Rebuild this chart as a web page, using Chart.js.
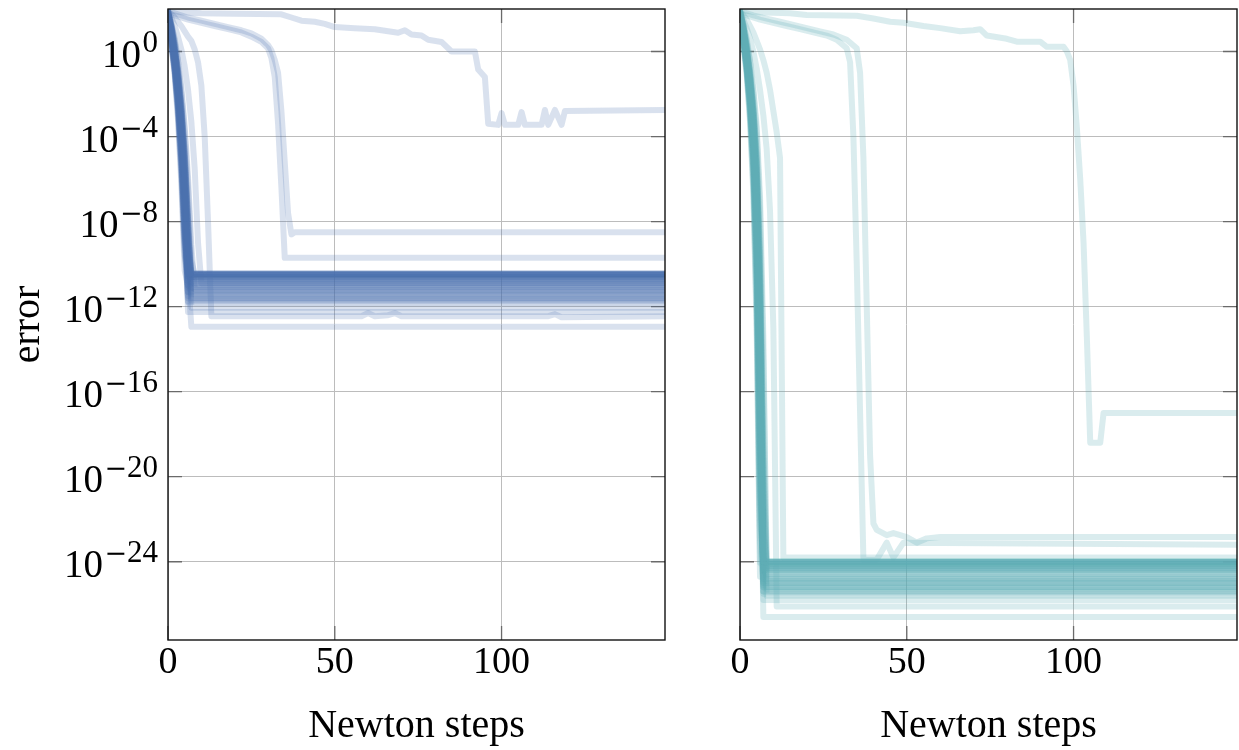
<!DOCTYPE html>
<html>
<head>
<meta charset="utf-8">
<script src="https://cdn.jsdelivr.net/npm/chart.js@4/dist/chart.umd.min.js"></script>
<style>
  html, body { margin: 0; padding: 0; background: #fff; }
  #wrap { position: relative; width: 1239px; height: 750px; }
  canvas { position: absolute; top: 0; }
  #errLeft { left: 0; }
  #errRight { left: 690px; }
</style>
</head>
<body>
<div id="wrap">
  <canvas id="errLeft" width="680" height="750"></canvas>
  <canvas id="errRight" width="549" height="750"></canvas>
</div>
<script>
// Newton steps shown on x, error (log10 exponent) on y
const stepRange = [0, 149];
const errorExpRange = [-27.68, 2.0];
const xTicks = [0, 50, 100];
const yTickExps = [0, -4, -8, -12, -16, -20, -24];

// Fast runs: error exponent at steps 0, 1, 2, ... then flat at the last value
const leftFast = [
  [1.8, 1.0, 0.0, -1.3, -3.0, -5.6, -9.0, -10.45],
  [1.6, 0.7, -0.5, -2.1, -4.4, -7.8, -10.45],
  [1.9, 1.2, 0.3, -0.9, -2.5, -4.7, -7.8, -10.45],
  [1.5, 0.5, -0.8, -2.6, -5.2, -8.9, -10.45],
  [1.7, 0.9, -0.2, -1.6, -3.5, -6.2, -9.6, -10.5],
  [1.8, 1.1, 0.1, -1.2, -2.9, -5.3, -8.6, -10.5],
  [1.4, 0.4, -1.0, -3.0, -5.8, -9.6, -10.5],
  [1.9, 1.3, 0.5, -0.5, -1.9, -3.8, -6.4, -9.8, -10.5],
  [1.6, 0.6, -0.6, -2.3, -4.7, -8.2, -10.55],
  [1.7, 0.8, -0.3, -1.8, -3.8, -6.8, -10.0, -10.6],
  [1.8, 1.0, -0.1, -1.5, -3.4, -6.1, -9.4, -10.6],
  [1.5, 0.5, -0.8, -2.6, -5.1, -8.7, -10.6],
  [1.9, 1.1, 0.0, -1.4, -3.2, -5.9, -9.3, -10.7],
  [1.6, 0.7, -0.5, -2.2, -4.5, -7.9, -10.75],
  [1.7, 0.9, -0.2, -1.7, -3.7, -6.6, -10.0, -10.8],
  [1.8, 1.2, 0.3, -0.9, -2.5, -4.8, -7.9, -10.9],
  [1.4, 0.3, -1.1, -3.2, -6.2, -10.3, -11.0],
  [1.7, 0.8, -0.4, -2.0, -4.2, -7.4, -11.1],
  [1.9, 1.3, 0.6, -0.4, -1.7, -3.5, -5.9, -9.1, -11.2],
  [1.6, 0.6, -0.7, -2.4, -4.8, -8.4, -11.3],
  [1.8, 1.0, -0.1, -1.5, -3.4, -6.2, -9.8, -11.4],
  [1.5, 0.4, -0.9, -2.8, -5.5, -9.3, -11.5],
  [1.7, 1.0, 0.0, -1.3, -3.1, -5.6, -9.0, -11.6],
  [1.8, 0.9, -0.2, -1.7, -3.8, -6.9, -10.5, -11.7],
  [1.6, 0.7, -0.5, -2.1, -4.4, -7.7, -11.8],
  [1.9, 1.2, 0.3, -0.9, -2.5, -4.7, -7.8, -12.05],
  [1.7, 0.8, -0.3, -1.9, -4.0, -7.1, -12.25],
  [1.8, 1.0, 0.0, -1.4, -3.2, -5.8, -9.3, -10.45],
  [1.5, 0.5, -0.8, -2.5, -5.0, -8.6, -10.45],
  [1.7, 0.9, -0.2, -1.6, -3.6, -6.4, -9.9, -10.5],
  [1.6, 0.7, -0.4, -2.0, -4.2, -7.4, -10.5],
  [1.8, 1.1, 0.1, -1.1, -2.8, -5.2, -8.5, -10.6],
  [1.6, 0.7, -0.4, -1.9, -4.0, -7.0, -10.6, -12.95],
  [1.9, 1.6, 1.2, 0.7, 0.1, -0.7, -1.8, -3.3, -5.5, -9.0, -10.9],
  [1.7, 0.9, -0.1, -1.5, -3.4, -6.0, -9.5, -10.7],
  [1.6, 0.6, -0.6, -2.2, -4.5, -7.9, -10.8],
  [1.8, 1.1, 0.2, -1.0, -2.7, -5.0, -8.2, -10.9],
  [1.5, 0.5, -0.7, -2.4, -4.8, -8.3, -11.0],
  [1.7, 0.9, -0.2, -1.7, -3.7, -6.6, -10.2, -11.1],
  [1.9, 1.2, 0.2, -1.1, -2.8, -5.2, -8.5, -11.2],
  [1.6, 0.6, -0.6, -2.3, -4.6, -8.0, -11.3],
  [1.8, 1.0, 0.0, -1.4, -3.3, -6.0, -9.6, -11.45],
  [1.7, 0.8, -0.3, -1.8, -3.9, -7.0, -11.6],
  [1.5, 0.4, -0.9, -2.7, -5.3, -9.0, -11.75]
];

// Slow runs: [step, error exponent] pairs
const leftSlow = [
  [[0, 1.9], [3, 1.75], [6, 1.6], [10, 1.45], [14, 1.3], [18, 1.15], [22, 1.0], [25, 0.85], [28, 0.6],
   [30, 0.3], [31, 0.05], [32, -0.4], [33, -1.0], [34, -2.8], [35, -5.2], [36, -7.6], [37, -8.6], [38, -8.5],
   [149, -8.5]],
  [[0, 1.8], [3, 1.65], [6, 1.5], [10, 1.35], [14, 1.2], [18, 1.05], [22, 0.9], [25, 0.7], [28, 0.45],
   [30, 0.15], [31, -0.3], [32, -1.2], [33, -3.4], [34, -6.4], [35, -9.7], [149, -9.7]],
  [[0, 1.95], [4, 1.85], [10, 1.8], [20, 1.78], [34, 1.75], [37, 1.6], [40, 1.45], [44, 1.4], [47, 1.3],
   [50, 1.15], [56, 1.1], [62, 1.05], [66, 0.95], [69, 0.88], [71, 1.0], [73, 0.8], [76, 0.75], [78, 0.55],
   [82, 0.45], [85, 0.0], [92, 0.0], [93, -0.85], [95, -1.2], [96, -3.4], [99, -3.45], [100, -2.9],
   [101, -3.45], [105, -3.45], [106, -2.85], [107, -3.45], [112, -3.45], [113, -2.75], [114, -3.45],
   [116, -2.75], [118, -3.45], [119, -2.8], [149, -2.75]],
  [[0, 1.9], [1, 1.75], [2, 1.6], [3, 1.4], [4, 1.2], [5, 0.95], [6, 0.7], [7, 0.5], [8, 0.1], [9, -0.5],
   [10, -1.6], [11, -4.0], [12, -8.0], [13, -12.45], [58, -12.45], [60, -12.3], [62, -12.45], [66, -12.4],
   [68, -12.3], [70, -12.45], [114, -12.45], [116, -12.35], [118, -12.5], [149, -12.45]]
];

const rightFast = [
  [1.8, 1.0, -0.1, -1.5, -3.4, -6.6, -12.8, -24.0],
  [1.6, 0.7, -0.5, -2.2, -4.6, -9.0, -17.8, -24.0],
  [1.9, 1.2, 0.3, -0.9, -2.5, -4.8, -9.4, -18.5, -24.0],
  [1.5, 0.5, -0.8, -2.7, -5.6, -11.0, -22.0, -24.0],
  [1.7, 0.9, -0.2, -1.7, -3.8, -7.4, -14.6, -24.0],
  [1.8, 1.1, 0.1, -1.2, -3.0, -5.8, -11.4, -22.6, -24.05],
  [1.4, 0.4, -1.0, -3.1, -6.4, -12.6, -24.05],
  [1.9, 1.3, 0.5, -0.5, -1.9, -3.8, -7.4, -14.6, -24.1],
  [1.6, 0.6, -0.6, -2.4, -5.0, -9.8, -19.4, -24.1],
  [1.7, 0.8, -0.3, -1.9, -4.1, -8.0, -15.8, -24.2],
  [1.8, 1.0, 0.0, -1.4, -3.2, -6.2, -12.2, -24.0, -24.3],
  [1.5, 0.5, -0.8, -2.6, -5.4, -10.6, -21.0, -24.3],
  [1.9, 1.1, 0.0, -1.4, -3.3, -6.4, -12.6, -24.35],
  [1.6, 0.7, -0.5, -2.2, -4.6, -9.0, -17.8, -24.4],
  [1.7, 0.9, -0.2, -1.7, -3.8, -7.4, -14.6, -24.5],
  [1.8, 1.2, 0.3, -0.9, -2.5, -4.9, -9.6, -19.0, -24.6],
  [1.4, 0.3, -1.1, -3.3, -6.7, -13.2, -24.7],
  [1.7, 0.8, -0.4, -2.0, -4.3, -8.4, -16.6, -24.8],
  [1.9, 1.3, 0.6, -0.4, -1.7, -3.5, -6.8, -13.4, -24.9],
  [1.6, 0.6, -0.7, -2.5, -5.2, -10.2, -20.2, -25.0],
  [1.8, 1.0, -0.1, -1.5, -3.5, -6.8, -13.4, -25.1],
  [1.5, 0.4, -0.9, -2.9, -5.9, -11.6, -23.0, -25.2],
  [1.7, 1.0, 0.0, -1.3, -3.1, -6.0, -11.8, -23.4, -25.3],
  [1.8, 0.9, -0.2, -1.7, -3.8, -7.4, -14.6, -25.4],
  [1.6, 0.7, -0.5, -2.1, -4.4, -8.6, -17.0, -25.5],
  [1.9, 1.2, 0.2, -1.1, -2.8, -5.4, -10.6, -21.0, -25.6],
  [1.7, 0.8, -0.3, -1.9, -4.1, -8.0, -15.8, -25.8],
  [1.8, 1.0, 0.0, -1.4, -3.3, -6.4, -12.6, -24.0],
  [1.5, 0.5, -0.8, -2.6, -5.3, -10.4, -20.6, -24.0],
  [1.7, 0.9, -0.2, -1.7, -3.8, -7.4, -14.6, -24.1],
  [1.6, 0.7, -0.5, -2.2, -4.6, -9.0, -17.8, -24.2],
  [1.8, 1.1, 0.1, -1.2, -3.0, -5.8, -11.4, -22.6, -24.3],
  [1.6, 0.7, -0.4, -2.0, -4.3, -8.4, -16.6, -26.6],
  [1.9, 1.5, 1.1, 0.6, 0.0, -0.8, -1.8, -3.0, -4.6, -7.5, -13.0, -26.1],
  [1.9, 1.7, 1.5, 1.2, 0.9, 0.5, 0.1, -0.4, -1.0, -1.8, -2.8, -3.8, -5.0, -23.8],
  [1.7, 0.9, -0.1, -1.5, -3.4, -6.6, -13.0, -24.2],
  [1.6, 0.6, -0.6, -2.3, -4.8, -9.4, -18.6, -24.4],
  [1.8, 1.1, 0.2, -1.0, -2.7, -5.2, -10.2, -20.2, -24.6],
  [1.5, 0.5, -0.7, -2.5, -5.1, -10.0, -19.8, -24.8],
  [1.7, 0.9, -0.2, -1.7, -3.8, -7.4, -14.6, -25.0],
  [1.9, 1.2, 0.2, -1.1, -2.8, -5.4, -10.6, -21.0, -25.2],
  [1.6, 0.6, -0.6, -2.3, -4.8, -9.4, -18.6, -25.4],
  [1.8, 1.0, 0.0, -1.4, -3.3, -6.4, -12.6, -24.9],
  [1.7, 0.8, -0.4, -2.0, -4.3, -8.4, -16.6, -25.2]
];

const rightSlow = [
  [[0, 1.9], [4, 1.7], [8, 1.55], [12, 1.4], [16, 1.25], [20, 1.1], [24, 0.95], [28, 0.8], [32, 0.55],
   [35, 0.15], [36, -1.0], [37, -5.0], [38, -12.0], [39, -19.0], [40, -22.2], [41, -22.5], [44, -22.75],
   [46, -22.65], [50, -22.84], [53, -23.1], [56, -22.9], [60, -22.84], [149, -22.84]],
  [[0, 1.8], [3, 1.65], [6, 1.5], [10, 1.35], [14, 1.2], [18, 1.05], [22, 0.9], [26, 0.75], [29, 0.55],
   [32, 0.15], [33, -0.5], [34, -4.0], [35, -10.0], [36, -17.0], [37, -23.9], [41, -23.9], [44, -23.1],
   [46, -23.8], [49, -23.1], [149, -23.2]],
  [[0, 1.95], [5, 1.85], [10, 1.82], [15, 1.8], [20, 1.72], [35, 1.68], [40, 1.55], [45, 1.4], [49, 1.35],
   [55, 1.2], [60, 1.1], [66, 0.95], [70, 1.0], [72, 1.05], [74, 0.75], [80, 0.6], [83, 0.46], [90, 0.46],
   [92, 0.22], [97, 0.22], [98, 0.0], [99, -0.4], [100, -1.6], [101, -3.6], [102, -6.0], [103, -9.0],
   [104, -13.5], [105, -18.4], [108, -18.4], [109, -17.0], [149, -17.0]]
];

const SERIF = "'Liberation Serif', 'Times New Roman', serif";
const leftColor = 'rgba(76, 114, 176, 0.21)';
const rightColor = 'rgba(95, 172, 180, 0.23)';

function fromProfile(profile) {
  const pts = profile.map((e, i) => ({ x: i, y: 10 ** e }));
  pts.push({ x: stepRange[1], y: 10 ** profile[profile.length - 1] });
  return pts;
}

function fromPairs(run) {
  return run.map(([s, e]) => ({ x: s, y: 10 ** e }));
}

function makeDatasets(fast, slow, color) {
  const runs = fast.map(fromProfile).concat(slow.map(fromPairs));
  return runs.map(points => ({
    data: points,
    borderColor: color,
    borderWidth: 6,
    borderJoinStyle: 'round',
    borderCapStyle: 'round',
    pointRadius: 0,
    tension: 0,
    fill: false
  }));
}

// box around the plot area and pgfplots-style inward tick marks
const frame = {
  id: 'frame',
  beforeDatasetsDraw(chart) {
    const { ctx, chartArea: a, scales: { x, y } } = chart;
    const len = 14;
    ctx.save();
    ctx.strokeStyle = '#6a6a6a';
    ctx.lineWidth = 1.3;
    ctx.beginPath();
    x.ticks.forEach(t => {
      const px = x.getPixelForValue(t.value);
      ctx.moveTo(px, a.top); ctx.lineTo(px, a.top + len);
      ctx.moveTo(px, a.bottom); ctx.lineTo(px, a.bottom - len);
    });
    y.ticks.forEach(t => {
      const py = y.getPixelForValue(t.value);
      ctx.moveTo(a.left, py); ctx.lineTo(a.left + len, py);
      ctx.moveTo(a.right, py); ctx.lineTo(a.right - len, py);
    });
    ctx.stroke();
    ctx.restore();
  },
  afterDatasetsDraw(chart) {
    const { ctx, chartArea: a } = chart;
    ctx.save();
    ctx.strokeStyle = '#111';
    ctx.lineWidth = 1.4;
    ctx.strokeRect(a.left, a.top, a.right - a.left, a.bottom - a.top);
    ctx.restore();
  }
};

// 10^k labels with a raised exponent (wide math minus)
const decadeLabels = {
  id: 'decadeLabels',
  afterDraw(chart) {
    const { ctx, chartArea: a, scales: { y } } = chart;
    const xr = a.left - 10;
    ctx.save();
    ctx.fillStyle = '#000';
    ctx.textAlign = 'right';
    ctx.textBaseline = 'alphabetic';
    y.ticks.forEach(t => {
      const py = y.getPixelForValue(t.value);
      const k = Math.round(Math.log10(t.value));
      const digits = String(Math.abs(k));
      let x = xr;
      ctx.font = '31px ' + SERIF;
      ctx.fillText(digits, x, py + 0.5);
      x -= ctx.measureText(digits).width;
      if (k < 0) {
        ctx.font = "27px 'DejaVu Serif', serif";
        ctx.fillText('\u2212', x, py + 0.5);
        x -= ctx.measureText('\u2212').width;
      }
      ctx.font = '39px ' + SERIF;
      ctx.fillText('10', x - 1.5, py + 15.5);
    });
    ctx.restore();
  }
};

function makeChart(canvasId, datasets, withYLabels, axisWidth, padRight) {
  const gridColor = '#bcbcbc';
  return new Chart(document.getElementById(canvasId), {
    type: 'line',
    data: { datasets },
    plugins: withYLabels ? [frame, decadeLabels] : [frame],
    options: {
      responsive: false,
      animation: false,
      layout: { padding: { top: 9, right: padRight, bottom: 0, left: 0 } },
      plugins: { legend: { display: false }, tooltip: { enabled: false } },
      scales: {
        x: {
          type: 'linear',
          min: stepRange[0],
          max: stepRange[1],
          afterBuildTicks: s => { s.ticks = xTicks.map(v => ({ value: v })); },
          afterFit: s => { s.height = 110; },
          grid: { color: gridColor, lineWidth: 1, drawTicks: false },
          border: { display: false },
          ticks: { color: '#000', font: { family: SERIF, size: 38 }, padding: 0, maxRotation: 0 },
          title: {
            display: true, text: 'Newton steps', color: '#000',
            font: { family: SERIF, size: 40, lineHeight: 1.2 }, padding: { top: 0, bottom: 0 }
          }
        },
        y: {
          type: 'logarithmic',
          min: 10 ** errorExpRange[0],
          max: 10 ** errorExpRange[1],
          afterBuildTicks: s => { s.ticks = yTickExps.map(e => ({ value: 10 ** e })); },
          afterFit: s => { s.width = axisWidth; },
          grid: { color: gridColor, lineWidth: 1, drawTicks: false },
          border: { display: false },
          ticks: { display: false },
          title: {
            display: withYLabels, text: 'error', color: '#000',
            font: { family: SERIF, size: 40, lineHeight: 1.2 }, padding: { top: 4, bottom: 0 }
          }
        }
      }
    }
  });
}

makeChart('errLeft', makeDatasets(leftFast, leftSlow, leftColor), true, 168, 15);
makeChart('errRight', makeDatasets(rightFast, rightSlow, rightColor), false, 50, 2);
</script>
</body>
</html>
